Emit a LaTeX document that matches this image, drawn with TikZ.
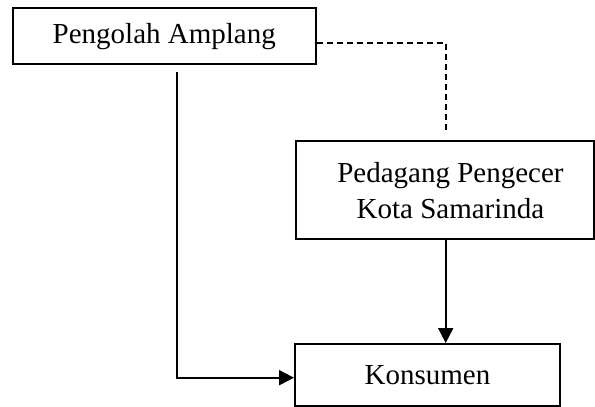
\documentclass[tikz,border=0pt]{standalone}
\usepackage{fontspec}
\setmainfont{Liberation Serif}
\usetikzlibrary{arrows.meta,calc}
\begin{document}
\begin{tikzpicture}[x=1pt,y=-1pt,
  box/.style={draw,line width=2pt,inner sep=0pt,align=center,font=\fontsize{29}{36}\selectfont},
  conn/.style={line width=2pt},
  tip/.style={-{Triangle[length=15pt,width=15pt]}}]
\useasboundingbox (0,0) rectangle (595,407);
\node[box,minimum width=303pt,minimum height=55.5pt] (top) at (164.3,36.2) {Pengolah Amplang};
\node[box,minimum width=298pt,minimum height=98.5pt] (ped) at (444.5,190.2) {\hspace*{12pt}Pedagang Pengecer\\\hspace*{12pt}Kota Samarinda};
\node[box,minimum width=265pt,minimum height=62pt] (kon) at (427.5,375) {Konsumen};
\coordinate (s) at (177,72);
\draw[line width=1.7pt,dash pattern=on 6pt off 4pt] ([yshift=-6.5pt]top.east) -| ([xshift=1.2pt,yshift=8pt]ped.north);
\draw[conn,tip] ([xshift=1.2pt]ped.south) -- ([xshift=1.2pt]ped.south |- kon.north);
\draw[conn,tip] (s) |- ([yshift=-2.7pt]kon.west);
\end{tikzpicture}
\end{document}
